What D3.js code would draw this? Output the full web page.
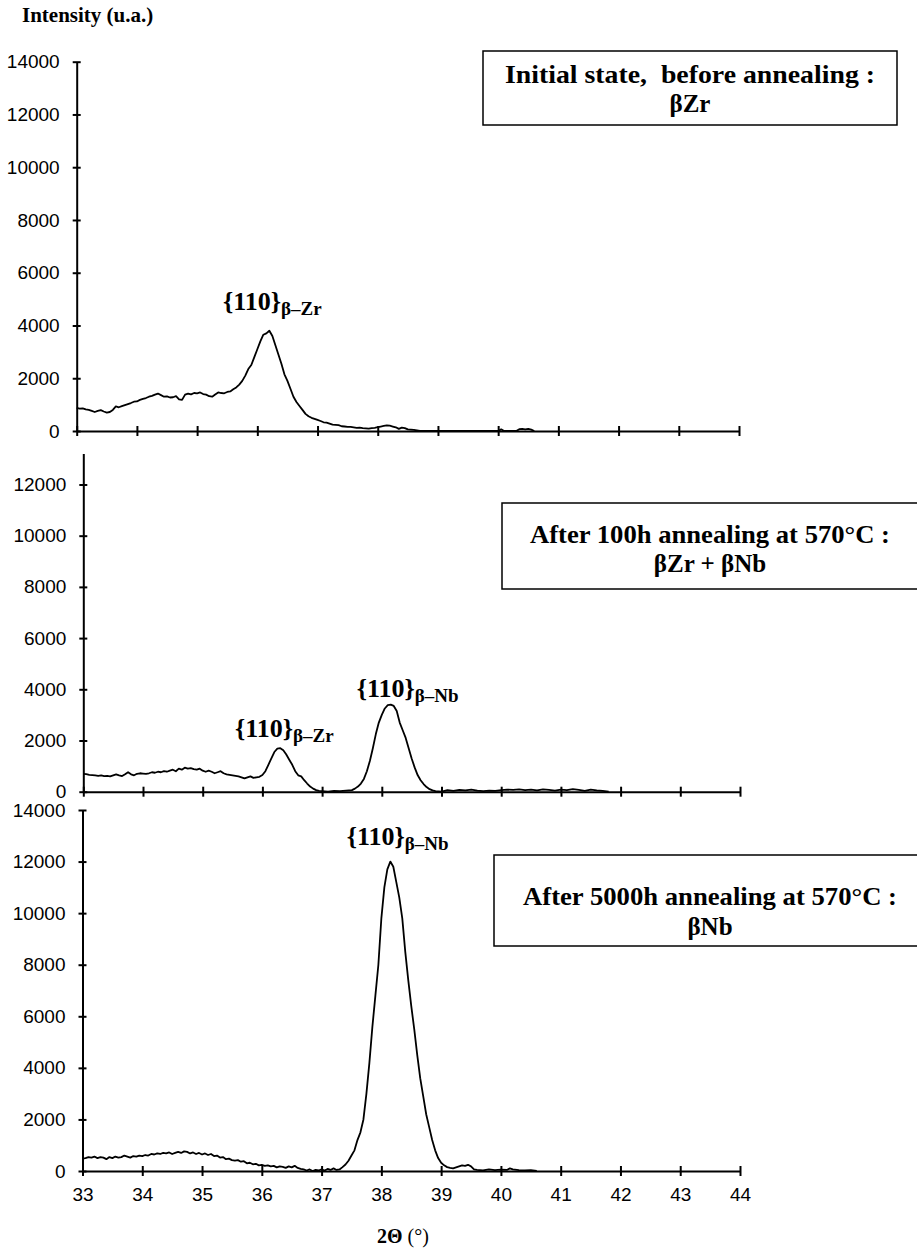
<!DOCTYPE html>
<html lang="en">
<head>
<meta charset="utf-8">
<title>XRD patterns - annealing at 570°C</title>
<script src="https://d3js.org/d3.v7.min.js"></script>
<style>
  body { margin: 0; background: #fff; }
  .tick text { font-family: "Liberation Sans", Arial, sans-serif; font-size: 19px; fill: #000; }
  .axis path, .axis line { stroke: #000; stroke-width: 2; }
  .serif { font-family: "Liberation Serif", "Times New Roman", serif; font-weight: bold; fill: #000; }
</style>
</head>
<body>
<svg id="chart"></svg>
<script>
// ---- data ----
const xTicks = [33, 34, 35, 36, 37, 38, 39, 40, 41, 42, 43, 44];
const yTicks14 = [0, 2000, 4000, 6000, 8000, 10000, 12000, 14000];
const yTicks12 = [0, 2000, 4000, 6000, 8000, 10000, 12000];

// [2theta, intensity]
const initialState = [
  [33.00,880],[33.05,850],[33.10,860],[33.15,820],[33.20,800],[33.25,760],[33.30,720],[33.35,760],
  [33.40,790],[33.45,740],[33.50,700],[33.55,720],[33.60,800],[33.65,930],[33.70,900],[33.75,940],
  [33.80,980],[33.85,1020],[33.90,1060],[33.95,1110],[34.00,1120],[34.05,1180],[34.10,1220],[34.15,1250],
  [34.20,1300],[34.25,1330],[34.30,1380],[34.35,1420],[34.40,1360],[34.45,1300],[34.50,1310],[34.55,1270],
  [34.60,1280],[34.65,1320],[34.70,1200],[34.75,1180],[34.80,1380],[34.85,1420],[34.90,1390],[34.95,1440],
  [35.00,1430],[35.05,1460],[35.10,1400],[35.15,1380],[35.20,1320],[35.25,1300],[35.30,1380],[35.35,1460],
  [35.40,1440],[35.45,1430],[35.50,1480],[35.55,1500],[35.60,1580],[35.65,1650],[35.70,1760],[35.75,1900],
  [35.80,2100],[35.85,2350],[35.90,2500],[35.95,2800],[36.00,3100],[36.05,3400],[36.10,3650],[36.15,3700],
  [36.20,3800],[36.25,3600],[36.30,3250],[36.35,2900],[36.40,2550],[36.45,2150],[36.50,1900],[36.55,1600],
  [36.60,1300],[36.65,1100],[36.70,950],[36.75,800],[36.80,650],[36.85,560],[36.90,500],[36.95,460],
  [37.00,420],[37.05,380],[37.10,330],[37.15,320],[37.20,280],[37.25,240],[37.30,230],[37.35,220],
  [37.40,180],[37.45,170],[37.50,160],[37.55,160],[37.60,140],[37.65,120],[37.70,130],[37.75,110],
  [37.80,100],[37.85,90],[37.90,110],[37.95,120],[38.00,150],[38.05,170],[38.10,190],[38.15,210],
  [38.20,200],[38.25,170],[38.30,140],[38.35,80],[38.40,130],[38.45,110],[38.50,60],[38.55,50],
  [38.60,40],[38.65,20],[38.70,0],[40.00,0],[40.05,60],[40.10,0],[40.30,0],[40.35,70],
  [40.40,80],[40.45,60],[40.50,80],[40.55,50],[40.60,0]
];

const after100h = [
  [33.00,700],[33.05,690],[33.10,660],[33.15,650],[33.20,640],[33.25,620],[33.30,640],[33.35,610],
  [33.40,620],[33.45,600],[33.50,640],[33.55,680],[33.60,640],[33.65,610],[33.70,680],[33.75,760],
  [33.80,680],[33.85,640],[33.90,700],[33.95,720],[34.00,710],[34.05,700],[34.10,720],[34.15,760],
  [34.20,740],[34.25,780],[34.30,760],[34.35,800],[34.40,780],[34.45,820],[34.50,860],[34.55,800],
  [34.60,900],[34.65,860],[34.70,940],[34.75,900],[34.80,920],[34.85,880],[34.90,860],[34.95,900],
  [35.00,820],[35.05,780],[35.10,820],[35.15,780],[35.20,720],[35.25,760],[35.30,800],[35.35,720],
  [35.40,680],[35.45,660],[35.50,640],[35.55,620],[35.60,600],[35.65,560],[35.70,520],[35.75,560],
  [35.80,600],[35.85,540],[35.90,560],[35.95,580],[36.00,650],[36.05,800],[36.10,1050],[36.15,1300],
  [36.20,1550],[36.25,1680],[36.30,1700],[36.35,1620],[36.40,1450],[36.45,1250],[36.50,1050],[36.55,800],
  [36.60,640],[36.65,600],[36.70,450],[36.75,320],[36.80,200],[36.85,120],[36.90,60],[36.95,30],
  [37.00,20],[37.10,0],[37.20,30],[37.30,20],[37.40,40],[37.50,60],[37.55,120],[37.60,200],
  [37.65,320],[37.70,500],[37.75,800],[37.80,1200],[37.85,1700],[37.90,2250],[37.95,2700],[38.00,3000],
  [38.05,3250],[38.10,3380],[38.15,3400],[38.20,3350],[38.25,3150],[38.30,2700],[38.35,2400],[38.40,2100],
  [38.45,1700],[38.50,1300],[38.55,950],[38.60,650],[38.65,450],[38.70,300],[38.75,180],[38.80,100],
  [38.85,50],[38.90,20],[39.00,0],[39.10,60],[39.20,30],[39.30,70],[39.40,50],[39.50,80],
  [39.60,40],[39.70,20],[39.80,40],[39.90,30],[40.00,60],[40.10,80],[40.20,70],[40.30,90],
  [40.40,60],[40.50,80],[40.60,50],[40.70,90],[40.80,70],[40.90,40],[41.00,80],[41.10,60],
  [41.20,100],[41.30,70],[41.40,30],[41.50,80],[41.60,50],[41.70,30],[41.80,0]
];

const after5000h = [
  [33.00,480],[33.05,500],[33.10,540],[33.15,520],[33.20,560],[33.25,500],[33.30,540],[33.35,520],
  [33.40,460],[33.45,540],[33.50,500],[33.55,560],[33.60,520],[33.65,540],[33.70,600],[33.75,560],
  [33.80,520],[33.85,580],[33.90,560],[33.95,600],[34.00,580],[34.05,620],[34.10,600],[34.15,660],
  [34.20,640],[34.25,680],[34.30,660],[34.35,700],[34.40,680],[34.45,720],[34.50,660],[34.55,700],
  [34.60,740],[34.65,700],[34.70,760],[34.75,740],[34.80,680],[34.85,720],[34.90,660],[34.95,700],
  [35.00,640],[35.05,680],[35.10,620],[35.15,660],[35.20,580],[35.25,600],[35.30,520],[35.35,540],
  [35.40,460],[35.45,480],[35.50,420],[35.55,400],[35.60,420],[35.65,360],[35.70,380],[35.75,300],
  [35.80,320],[35.85,260],[35.90,280],[35.95,220],[36.00,240],[36.05,200],[36.10,220],[36.15,180],
  [36.20,200],[36.25,140],[36.30,180],[36.35,160],[36.40,120],[36.45,180],[36.50,140],[36.55,200],
  [36.60,120],[36.65,80],[36.70,60],[36.75,20],[36.80,60],[36.85,0],[36.90,40],[36.95,20],
  [37.00,60],[37.05,20],[37.10,80],[37.15,40],[37.20,100],[37.25,40],[37.30,60],[37.35,150],
  [37.40,250],[37.45,400],[37.50,600],[37.55,800],[37.60,1200],[37.65,1500],[37.70,2000],[37.75,3000],
  [37.80,4200],[37.85,5600],[37.90,6800],[37.95,8000],[38.00,9800],[38.05,11000],[38.10,11700],[38.15,12000],
  [38.20,11800],[38.25,11200],[38.30,10600],[38.35,9800],[38.40,8500],[38.45,7400],[38.50,6400],[38.55,5500],
  [38.60,4500],[38.65,3600],[38.70,2900],[38.75,2200],[38.80,1700],[38.85,1200],[38.90,800],[38.95,500],
  [39.00,320],[39.05,220],[39.10,150],[39.15,120],[39.20,100],[39.25,140],[39.30,180],[39.35,220],
  [39.40,200],[39.45,240],[39.50,180],[39.55,60],[39.60,40],[39.70,20],[39.80,60],[39.90,30],
  [40.00,50],[40.10,40],[40.15,100],[40.20,60],[40.30,30],[40.40,20],[40.50,30],[40.60,0]
];

const boxLines = [
  ["Initial state,  before annealing :", "\u03b2Zr"],
  ["After 100h annealing at 570\u00b0C :", "\u03b2Zr + \u03b2Nb"],
  ["After 5000h annealing at 570\u00b0C :", "\u03b2Nb"]
];

// peak labels: panel index, 2theta, intensity (baseline), subscript
const peakLabels = [
  {panel: 0, theta: 35.43, value: 4590, sub: "\u03b2\u2013Zr"},
  {panel: 1, theta: 35.54, value: 2150, sub: "\u03b2\u2013Zr"},
  {panel: 1, theta: 37.58, value: 3710, sub: "\u03b2\u2013Nb"},
  {panel: 2, theta: 37.42, value: 12640, sub: "\u03b2\u2013Nb"}
];

// ---- layout ----
const w = 917, h = 1248;
const svg = d3.select("#chart").attr("width", w).attr("height", h);

const panels = [
  {data: initialState, xr: [76.7, 739], yr: [431, 61.7], ymax: 14000, ticks: yTicks14, labels: false,
   box: {x: 483, y: 51, w: 414, h: 74, cx: 690, base: [83, 112], len: 370}},
  {data: after100h, xr: [83.3, 740], yr: [791.7, 453.5], ymax: 13210, ticks: yTicks12, labels: false,
   box: {x: 502, y: 503, w: 420, h: 86, cx: 710, base: [543, 572], len: 360}},
  {data: after5000h, xr: [82.5, 740], yr: [1171, 810], ymax: 14000, ticks: yTicks14, labels: true,
   box: {x: 494, y: 855, w: 430, h: 91, cx: 710, base: [905, 935], len: 374}}
];

panels.forEach(function(p, i) {
  const x = d3.scaleLinear().domain([33, 44]).range(p.xr);
  const y = d3.scaleLinear().domain([0, p.ymax]).range(p.yr);
  p.x = x; p.y = y;

  // curve
  svg.append("path")
    .datum(p.data)
    .attr("fill", "none")
    .attr("stroke", "#000")
    .attr("stroke-width", 1.8)
    .attr("stroke-linejoin", "round")
    .attr("d", d3.line().x(d => x(d[0])).y(d => y(d[1])));

  // y axis
  const gy = svg.append("g")
    .attr("class", "axis")
    .attr("transform", "translate(" + p.xr[0] + ",0)")
    .call(d3.axisLeft(y).tickValues(p.ticks).tickSizeInner(4).tickSizeOuter(0).tickPadding(13).tickFormat(d3.format("d")));
  gy.selectAll(".tick line").attr("x1", -4).attr("x2", 4);
  gy.selectAll(".tick text").attr("font-size", null).attr("font-family", null);

  // x axis
  const gx = svg.append("g")
    .attr("class", "axis")
    .attr("transform", "translate(0," + p.yr[0] + ")")
    .call(d3.axisBottom(x).tickValues(xTicks).tickSizeInner(5).tickSizeOuter(0).tickPadding(12)
      .tickFormat(p.labels ? d3.format("d") : ""));
  gx.selectAll(".tick line").attr("y1", -5).attr("y2", 5);
  gx.selectAll(".tick text").attr("font-size", null).attr("font-family", null);

  // state box
  svg.append("rect")
    .attr("x", p.box.x).attr("y", p.box.y)
    .attr("width", p.box.w).attr("height", p.box.h)
    .attr("fill", "#fff").attr("stroke", "#000").attr("stroke-width", 1.5);
  boxLines[i].forEach(function(t, k) {
    const bt = svg.append("text")
      .attr("class", "serif")
      .attr("x", p.box.cx).attr("y", p.box.base[k])
      .attr("text-anchor", "middle")
      .attr("font-size", 25)
      .style("white-space", "pre")
      .text(t);
    if (k === 0) bt.attr("textLength", p.box.len).attr("lengthAdjust", "spacingAndGlyphs");
  });
});

// peak labels
peakLabels.forEach(function(d) {
  const p = panels[d.panel];
  const t = svg.append("text")
    .attr("class", "serif")
    .attr("x", p.x(d.theta)).attr("y", p.y(d.value))
    .attr("font-size", 26);
  t.append("tspan").text("{110}");
  t.append("tspan").attr("font-size", 19).attr("dy", 5).text(d.sub);
});

// axis titles
svg.append("text")
  .attr("class", "serif")
  .attr("x", 22).attr("y", 22)
  .attr("font-size", 21)
  .text("Intensity (u.a.)");

const xt = svg.append("text")
  .attr("x", 403).attr("y", 1243)
  .attr("text-anchor", "middle")
  .attr("font-family", "Liberation Serif, Times New Roman, serif")
  .attr("font-size", 20);
xt.append("tspan").attr("font-weight", "bold").text("2\u0398");
xt.append("tspan").text(" (\u00b0)");
</script>
</body>
</html>
